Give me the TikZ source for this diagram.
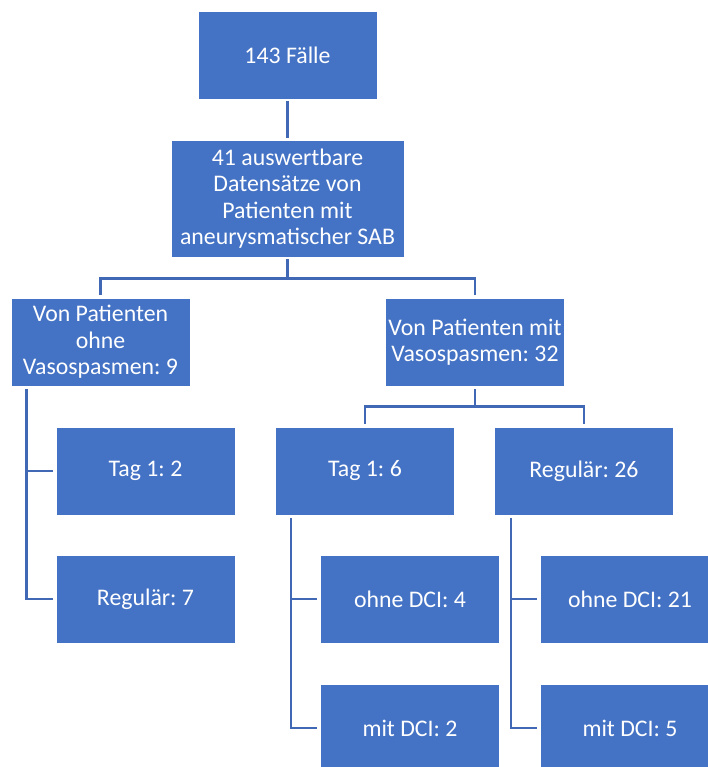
\documentclass[tikz,border=0pt]{standalone}
\usepackage{fontspec}
\setmainfont{Carlito}
\usepackage{tikz}
\usetikzlibrary{positioning}
\definecolor{officeblue}{HTML}{4472C4}
\definecolor{linkblue}{HTML}{4068B4}
\frenchspacing
\tikzset{
  box/.style={draw=white, line width=0.8pt, fill=officeblue, text=white, align=center, inner sep=0pt,
    font=\fontsize{23.8}{26.4}\selectfont, minimum width=179pt, minimum height=88pt},
  link/.style={draw=linkblue, line width=2.5pt}
}
\begin{document}
\begin{tikzpicture}[x=1pt, y=1pt]
  \useasboundingbox (0,0) rectangle (708,-767);
  \node[box] (faelle) at (287.5,-55) {143 Fälle};
  \node[box, minimum width=233pt, minimum height=117pt] (daten) at (287.5,-198.5) {41 auswertbare\\Datensätze von\\Patienten mit\\aneurysmatischer SAB};
  \node[box] (ohne) at (100.5,-342) {Von Patienten\\ohne\\Vasospasmen: 9};
  \node[box] (mit) at (475,-342) {Von Patienten mit\\Vasospasmen: 32};
  \node[box] (tagA) at (145.5,-471) {Tag 1: 2};
  \node[box] (regA) at (145.5,-599) {Regulär: 7};
  \node[box] (tagB) at (365,-471) {Tag 1: 6};
  \node[box] (regB) at (584,-471) {Regulär: 26};
  \node[box] (ohneB) at (410,-599) {ohne DCI: 4};
  \node[box] (mitB) at (410,-728) {mit DCI: 2};
  \node[box] (ohneC) at (630,-599) {ohne DCI: 21};
  \node[box] (mitC) at (630,-728) {mit DCI: 5};
  \draw[link] ([yshift=-2pt]faelle.south) -- ([yshift=2pt]daten.north);
  \draw[link] ([yshift=-2pt]daten.south) -- ++(0,-19) -| ([yshift=3pt]ohne.north);
  \draw[link] ([yshift=-2pt]daten.south) -- ++(0,-19) -| ([yshift=3pt]mit.north);
  \draw[link] ([yshift=-3pt]mit.south) -- ++(0,-17) -| ([yshift=3pt]tagB.north);
  \draw[link] ([yshift=-3pt]mit.south) -- ++(0,-17) -| ([yshift=3pt]regB.north);
  \draw[link] ([xshift=16pt,yshift=-3pt]ohne.south west) |- ([xshift=-3pt]tagA.west);
  \draw[link] ([xshift=16pt,yshift=-3pt]ohne.south west) |- ([xshift=-3pt]regA.west);
  \draw[link] ([xshift=16pt,yshift=-3pt]tagB.south west) |- ([xshift=-3pt]ohneB.west);
  \draw[link] ([xshift=16pt,yshift=-3pt]tagB.south west) |- ([xshift=-3pt]mitB.west);
  \draw[link] ([xshift=17pt,yshift=-3pt]regB.south west) |- ([xshift=-3pt]ohneC.west);
  \draw[link] ([xshift=17pt,yshift=-3pt]regB.south west) |- ([xshift=-3pt]mitC.west);
\end{tikzpicture}
\end{document}
